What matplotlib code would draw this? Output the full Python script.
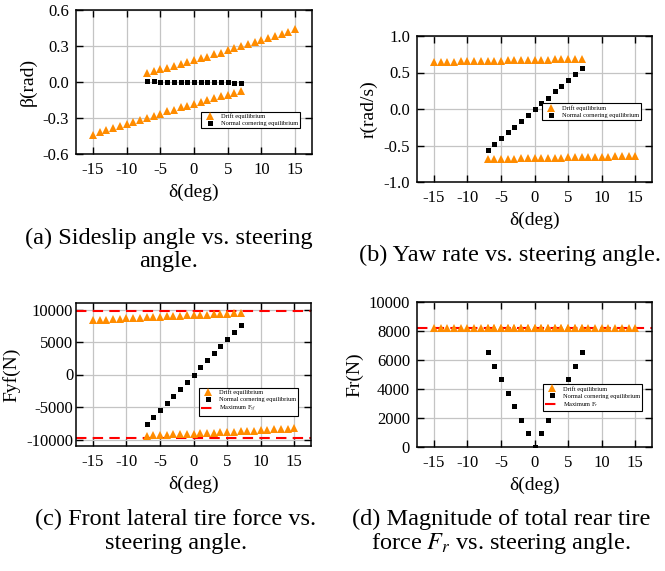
import numpy as np
import matplotlib
matplotlib.use('Agg')
import matplotlib.pyplot as plt

plt.rcParams['font.family'] = ['Liberation Serif', 'DejaVu Serif']
plt.rcParams['mathtext.fontset'] = 'stix'
plt.rcParams['axes.unicode_minus'] = False

# steering angle grids
delta_pos = [-7, -6, -5, -4, -3, -2, -1, 0, 1, 2, 3, 4, 5, 6, 7, 8, 9, 10, 11, 12, 13, 14, 15]
delta_neg = [-15, -14, -13, -12, -11, -10, -9, -8, -7, -6, -5, -4, -3, -2, -1, 0, 1, 2, 3, 4, 5, 6, 7]
delta_nc = [-7, -6, -5, -4, -3, -2, -1, 0, 1, 2, 3, 4, 5, 6, 7]
xticks = [-15, -10, -5, 0, 5, 10, 15]

# (a) sideslip angle
beta_drift_up = [0.078, 0.092, 0.105, 0.119, 0.133, 0.150, 0.164, 0.180, 0.197, 0.210, 0.230, 0.244,
                 0.264, 0.280, 0.297, 0.314, 0.330, 0.347, 0.364, 0.383, 0.400, 0.420, 0.440]
beta_drift_lo = [-0.440, -0.420, -0.400, -0.383, -0.364, -0.347, -0.330, -0.314, -0.297, -0.280, -0.264,
                 -0.244, -0.230, -0.210, -0.197, -0.180, -0.164, -0.150, -0.133, -0.119, -0.105, -0.092, -0.078]
beta_nc = [0.010, 0.005, 0.003, 0.002, 0.001, 0.001, 0.0, 0.0, 0.0, -0.001, -0.001, -0.002, -0.003, -0.005, -0.010]

# (b) yaw rate
r_drift_up = [0.643, 0.645, 0.647, 0.649, 0.651, 0.653, 0.655, 0.657, 0.659, 0.661, 0.663, 0.665,
              0.667, 0.669, 0.671, 0.673, 0.675, 0.677, 0.679, 0.681, 0.683, 0.684, 0.685]
r_drift_lo = [-0.685, -0.684, -0.683, -0.681, -0.679, -0.677, -0.675, -0.673, -0.671, -0.669, -0.667,
              -0.665, -0.663, -0.661, -0.659, -0.657, -0.655, -0.653, -0.651, -0.649, -0.647, -0.645, -0.641]
r_nc = [-0.555, -0.477, -0.398, -0.320, -0.245, -0.162, -0.083, 0.0, 0.079, 0.157, 0.240, 0.315, 0.398, 0.477, 0.555]

# (c) front lateral tire force
fyf_drift_up = [8330, 8400, 8460, 8520, 8580, 8640, 8690, 8740, 8790, 8840, 8890, 8940,
                8990, 9030, 9080, 9120, 9170, 9210, 9260, 9300, 9350, 9400, 9440]
fyf_drift_lo = [-9400, -9350, -9300, -9260, -9210, -9170, -9120, -9080, -9030, -8990, -8940, -8890,
                -8840, -8790, -8740, -8690, -8640, -8580, -8520, -8460, -8400, -8330, -8250]
fyf_nc = [-7600, -6580, -5480, -4390, -3290, -2200, -1100, 0, 1100, 2200, 3290, 4390, 5480, 6580, 7650]
fyf_max = 9750

# (d) total rear tire force
fr_drift_up = [8230, 8230, 8230, 8230, 8230, 8230, 8230, 8230, 8230, 8230, 8230, 8230,
               8230, 8230, 8230, 8230, 8230, 8230, 8230, 8230, 8230, 8230, 8230]
fr_drift_lo = [8230, 8230, 8230, 8230, 8230, 8230, 8230, 8230, 8230, 8230, 8230, 8230,
               8230, 8230, 8230, 8230, 8230, 8230, 8230, 8230, 8230, 8230, 8230]
fr_nc = [6560, 5610, 4680, 3730, 2810, 1870, 940, 0, 940, 1870, 2810, 3730, 4680, 5610, 6560]
fr_max = 8200

ORANGE = '#ff8c00'
W, H = 665, 571
fig = plt.figure(figsize=(W / 100, H / 100), dpi=100)


def add_ax(x0, y0, x1, y1):
    return fig.add_axes([x0 / W, 1 - y1 / H, (x1 - x0) / W, (y1 - y0) / H])


def style(ax, ylim, yticks, ylabels, ylabel, ypad=5):
    ax.set_xlim(-17.5, 17.5)
    ax.set_ylim(*ylim)
    ax.set_xticks(xticks)
    ax.set_xticklabels([str(t) for t in xticks])
    ax.set_yticks(yticks)
    ax.set_yticklabels(ylabels)
    ax.grid(True, color='#c4c4c4', lw=0.9)
    ax.set_axisbelow(True)
    ax.tick_params(direction='in', length=5, width=1, top=True, right=True, labelsize=12)
    ax.tick_params(axis='x', pad=6)
    ax.tick_params(axis='y', pad=ypad)
    for s in ax.spines.values():
        s.set_linewidth(1.1)
    ax.set_xlabel('δ(deg)', fontsize=14, labelpad=4)
    ax.set_ylabel(ylabel, fontsize=14, labelpad=4)


def scatter(ax, d1, y1, d2, y2, dn, yn):
    ax.plot(d1, y1, '^', color=ORANGE, ms=5.3, mew=0, label='Drift equilibrium', zorder=3)
    ax.plot(d2, y2, '^', color=ORANGE, ms=5.3, mew=0, zorder=3)
    ax.plot(dn, yn, 's', color='black', ms=3.6, mew=0, label='Normal cornering equilibrium', zorder=3)


def legend(ax, anchor):
    lg = ax.legend(loc='lower right', bbox_to_anchor=anchor, borderaxespad=0, fontsize=4.6,
                   fancybox=False, framealpha=1, edgecolor='black', handlelength=2.2,
                   borderpad=0.3, labelspacing=0.25, handletextpad=0.6)
    lg.get_frame().set_linewidth(0.8)
    lg.set_zorder(5)


# (a)
ax = add_ax(76, 10, 312, 154)
scatter(ax, delta_pos, beta_drift_up, delta_neg, beta_drift_lo, delta_nc, beta_nc)
style(ax, (-0.6, 0.6), [-0.6, -0.3, 0.0, 0.3, 0.6], ['-0.6', '-0.3', '0.0', '0.3', '0.6'], 'β(rad)')
legend(ax, (0.95, 0.18))

# (b)
ax = add_ax(417, 36, 652, 182)
scatter(ax, delta_neg, r_drift_up, delta_pos, r_drift_lo, delta_nc, r_nc)
style(ax, (-1.0, 1.0), [-1.0, -0.5, 0.0, 0.5, 1.0], ['-1.0', '-0.5', '0.0', '0.5', '1.0'], 'r(rad/s)')
legend(ax, (0.953, 0.425))

# (c)
ax = add_ax(76, 303, 311, 446)
scatter(ax, delta_neg, fyf_drift_up, delta_pos, fyf_drift_lo, delta_nc, fyf_nc)
ax.axhline(fyf_max, color='red', ls=(0, (5, 3)), lw=1.5, label='Maximum F$_{yf}$', zorder=2)
ax.axhline(-fyf_max, color='red', ls=(0, (5, 3)), lw=1.5, zorder=2)
style(ax, (-11000, 11000), [-10000, -5000, 0, 5000, 10000], ['-10000', '-5000', '0', '5000', '10000'],
      'Fyf(N)', ypad=2)
legend(ax, (0.945, 0.21))

# (d)
ax = add_ax(417, 302, 652, 447)
scatter(ax, delta_neg, fr_drift_up, delta_pos, fr_drift_lo, delta_nc, fr_nc)
ax.axhline(fr_max, color='red', ls=(0, (5, 3)), lw=1.5, label='Maximum F$_r$', zorder=2)
style(ax, (0, 10000), [0, 2000, 4000, 6000, 8000, 10000],
      ['0', '2000', '4000', '6000', '8000', '10000'], 'Fr(N)')
legend(ax, (0.957, 0.248))

# captions
cap = dict(ha='center', va='center', fontsize=17.5)
fig.text(169 / W, 1 - 238 / H, '(a) Sideslip angle vs. steering', **cap)
fig.text(169 / W, 1 - 261 / H, 'angle.', **cap)
fig.text(510 / W, 1 - 255 / H, '(b) Yaw rate vs. steering angle.', **cap)
fig.text(176 / W, 1 - 519 / H, '(c) Front lateral tire force vs.', **cap)
fig.text(176 / W, 1 - 544 / H, 'steering angle.', **cap)
fig.text(501 / W, 1 - 519 / H, '(d) Magnitude of total rear tire', **cap)
fig.text(501 / W, 1 - 544 / H, 'force $F_r$ vs. steering angle.', **cap)

fig.savefig('out.png', dpi=100)
